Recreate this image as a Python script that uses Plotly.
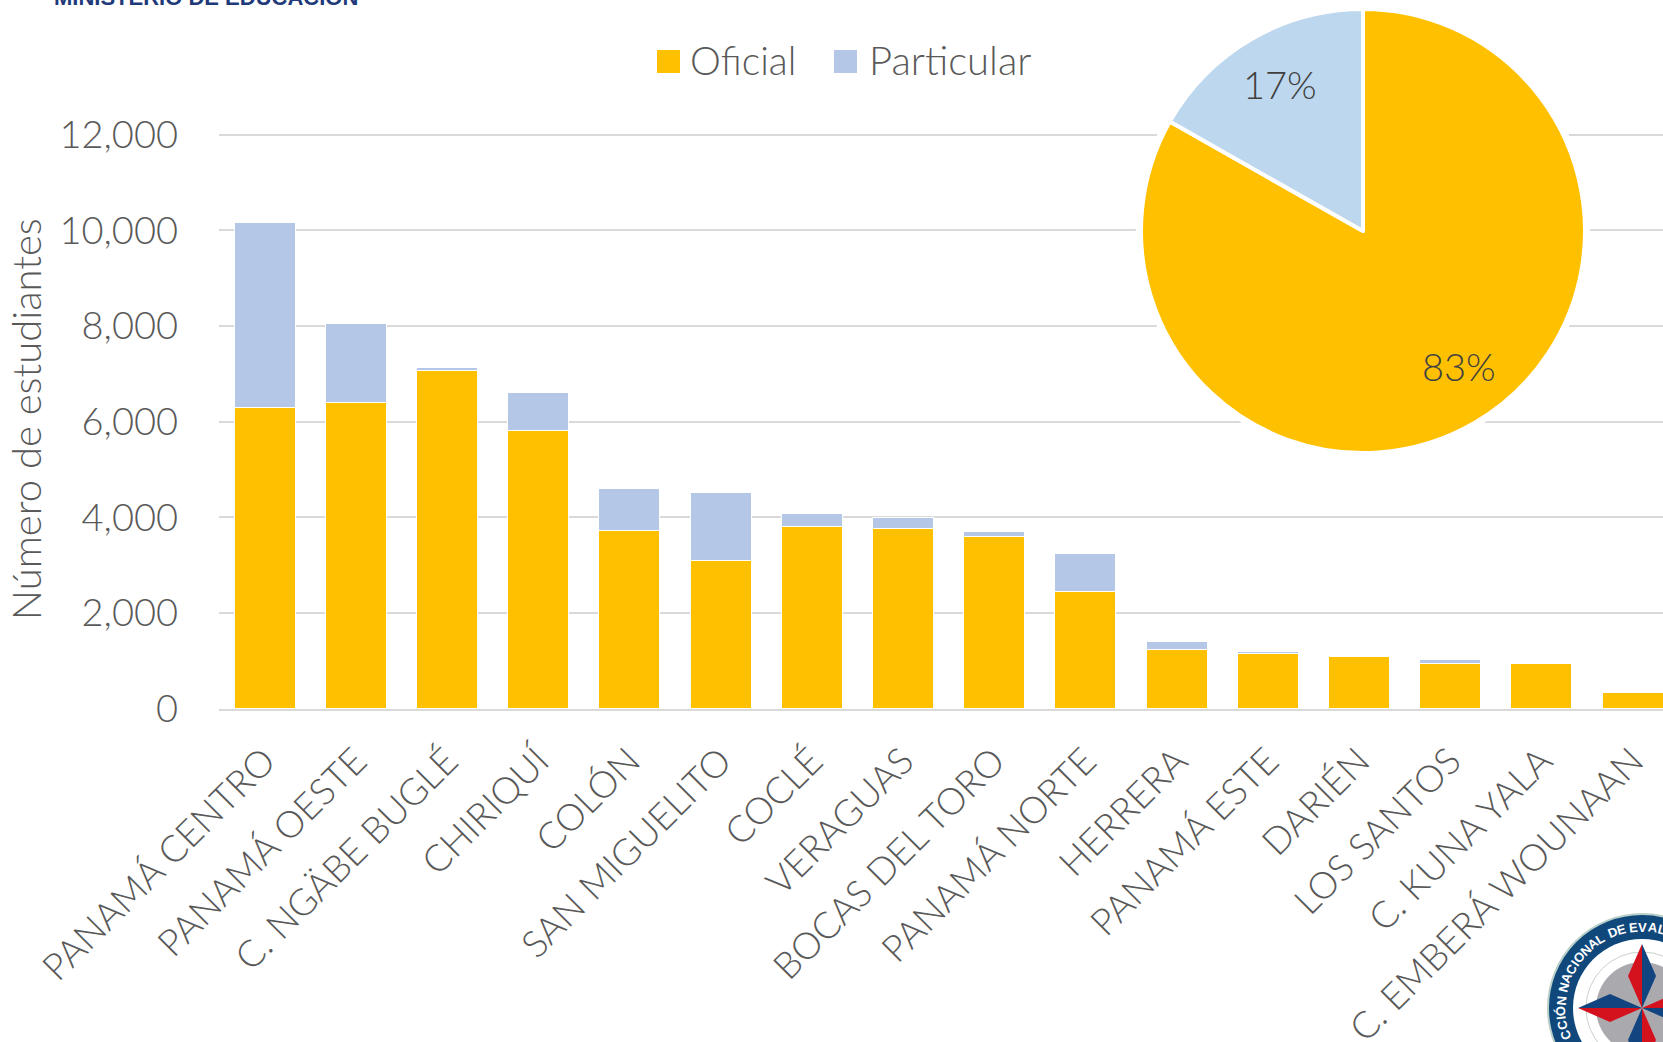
import math
import plotly.graph_objects as go

W, H = 1663, 1042
categories = ["PANAMÁ CENTRO", "PANAMÁ OESTE", "C. NGÄBE BUGLÉ", "CHIRIQUÍ", "COLÓN", "SAN MIGUELITO",
              "COCLÉ", "VERAGUAS", "BOCAS DEL TORO", "PANAMÁ NORTE", "HERRERA", "PANAMÁ ESTE",
              "DARIÉN", "LOS SANTOS", "C. KUNA YALA", "C. EMBERÁ WOUNAAN"]
oficial = [6300, 6390, 7075, 5810, 3730, 3085, 3815, 3770, 3590, 2440, 1240, 1155, 1085, 950, 950, 330]
particular = [3860, 1660, 65, 800, 865, 1440, 265, 220, 110, 800, 160, 35, 5, 70, 0, 0]
pie_labels = ["Oficial", "Particular"]
pie_values = [83.2, 16.8]
y_ticks = [0, 2000, 4000, 6000, 8000, 10000, 12000]

FONT = "Lato Light, Lato, sans-serif"
GREY = "#595959"
YEL = "#FFC000"
BLU = "#B4C7E7"

def px(x): return x / W
def py(y): return 1 - y / H

fig = go.Figure()
fig.add_bar(x=categories, y=oficial, name="Oficial", marker=dict(color=YEL, line=dict(color="#fff", width=1)), showlegend=False)
fig.add_bar(x=categories, y=particular, name="Particular", marker=dict(color=BLU, line=dict(color="#fff", width=1)), showlegend=False)

cx, cy, r = 1363, 231, 222
halo = r + 5
fig.add_pie(labels=["halo"], values=[1], textinfo="none", hoverinfo="skip", showlegend=False,
            domain=dict(x=[px(cx - halo), px(cx + halo)], y=[py(cy + halo), py(cy - halo)]),
            marker=dict(colors=["#FFFFFF"], line=dict(width=0)))
fig.add_pie(labels=pie_labels, values=pie_values, sort=False, direction="clockwise", rotation=0,
            domain=dict(x=[px(cx - r), px(cx + r)], y=[py(cy + r), py(cy - r)]),
            marker=dict(colors=[YEL, "#BDD7EE"], line=dict(color="#fff", width=4)),
            textinfo="none", showlegend=False, hoverinfo="label+percent")

shapes = [
    dict(type="rect", xref="paper", yref="paper", x0=px(657), x1=px(680), y0=py(73), y1=py(50), fillcolor=YEL, line_width=0),
    dict(type="rect", xref="paper", yref="paper", x0=px(834), x1=px(857), y0=py(73), y1=py(50), fillcolor=BLU, line_width=0),
]
annotations = [
    dict(text="Oficial", xref="paper", yref="paper", x=px(688), y=py(60), xanchor="left", yanchor="middle", showarrow=False,
         font=dict(family=FONT, size=39, color=GREY)),
    dict(text="Particular", xref="paper", yref="paper", x=px(867), y=py(60), xanchor="left", yanchor="middle", showarrow=False,
         font=dict(family=FONT, size=40, color=GREY)),
    dict(text="<b>MINISTERIO DE EDUCACIÓN</b>", xref="paper", yref="paper", x=px(52), y=py(-3), xanchor="left", yanchor="middle", showarrow=False,
         font=dict(family="Liberation Sans", size=22, color="#1F3A7A")),
    dict(text=f"{round(pie_values[1])}%", xref="paper", yref="paper", x=px(1280), y=py(84), xanchor="center", yanchor="middle", showarrow=False,
         font=dict(family=FONT, size=38, color="#404040")),
    dict(text=f"{round(pie_values[0])}%", xref="paper", yref="paper", x=px(1459), y=py(366), xanchor="center", yanchor="middle", showarrow=False,
         font=dict(family=FONT, size=38, color="#404040")),
]

# seal, bottom right
sx, sy, sr = 1642, 1008, 94
def circ(rad, fill, line="rgba(0,0,0,0)", lw=0):
    return dict(type="circle", xref="paper", yref="paper", x0=px(sx - rad), x1=px(sx + rad), y0=py(sy + rad), y1=py(sy - rad),
                fillcolor=fill, line=dict(color=line, width=lw))
shapes += [circ(94, "#10487C", "#B9CFC9", 2), circ(69, "#FFFFFF"), circ(56, "#FFFFFF", "#C9D2CC", 1), circ(46, "#A9A9AE")]
def poly(pts, fill):
    d = "M" + " L".join(f"{px(sx + a):.5f},{py(sy + b):.5f}" for a, b in pts) + " Z"
    return dict(type="path", xref="paper", yref="paper", path=d, fillcolor=fill, line_width=0)
for ang in (0, 90, 180, 270):
    c, s = math.cos(math.radians(ang)), math.sin(math.radians(ang))
    rot = lambda p: (p[0] * c - p[1] * s, p[0] * s + p[1] * c)
    shapes.append(poly([rot(p) for p in [(0, 0), (0, -64), (14, -32)]], "#12447F"))
    shapes.append(poly([rot(p) for p in [(0, 0), (0, -64), (-14, -32)]], "#D3121E"))
seal = "CCIÓN NACIONAL DE EVAL"
widths = [0.3 if ch in " I" else 0.62 if ch in "LE" else 0.72 for ch in seal]
a0, a1 = -109.0, 14.0
unit = (a1 - a0) / (sum(widths) - widths[0] / 2 - widths[-1] / 2)
pos = 0.0
for i, ch in enumerate(seal):
    a = a0 + pos * unit
    if i + 1 < len(seal):
        pos += (widths[i] + widths[i + 1]) / 2
    if ch == " ":
        continue
    t = math.radians(a)
    rr = 81
    annotations.append(dict(text=f"<b>{ch}</b>", xref="paper", yref="paper", x=px(sx + rr * math.sin(t)),
                            y=py(sy - rr * math.cos(t)), xanchor="center", yanchor="middle", showarrow=False,
                            textangle=a, font=dict(family="Liberation Sans", size=13, color="#FFFFFF")))

# 12,000 must sit just inside the axis end for its gridline to be drawn
PX_PER_UNIT = (708.5 - 134.7) / 12000
y_top = 12100
fig.update_layout(
    barmode="stack", bargap=0.33, width=W, height=H, autosize=False,
    margin=dict(l=0, r=0, t=0, b=0), paper_bgcolor="#fff", plot_bgcolor="#fff",
    font=dict(family=FONT, color=GREY), shapes=shapes, annotations=annotations,
    xaxis=dict(domain=[px(219), 1], range=[-0.5, 15.333], type="category", categoryorder="array", categoryarray=categories,
               tickangle=-45, tickfont=dict(family=FONT, size=37, color=GREY), ticks="", showgrid=False, ticklabelstandoff=14,
               showline=True, linecolor="#D9D9D9", linewidth=2, automargin=False),
    yaxis=dict(domain=[py(708.5), py(708.5 - y_top * PX_PER_UNIT)], range=[0, y_top], tickvals=y_ticks, tickformat=",", ticks="",
               tickfont=dict(family=FONT, size=38, color=GREY), showgrid=True, gridcolor="#D9D9D9", gridwidth=2,
               zeroline=False, showline=False, ticklabelstandoff=40, automargin=False,
               title=dict(text="Número de estudiantes", font=dict(family=FONT, size=40, color=GREY), standoff=5)),
)
fig.write_html("out.html", config={"displayModeBar": False},
               post_script="document.body.style.margin='0';document.body.style.overflow='hidden';")
